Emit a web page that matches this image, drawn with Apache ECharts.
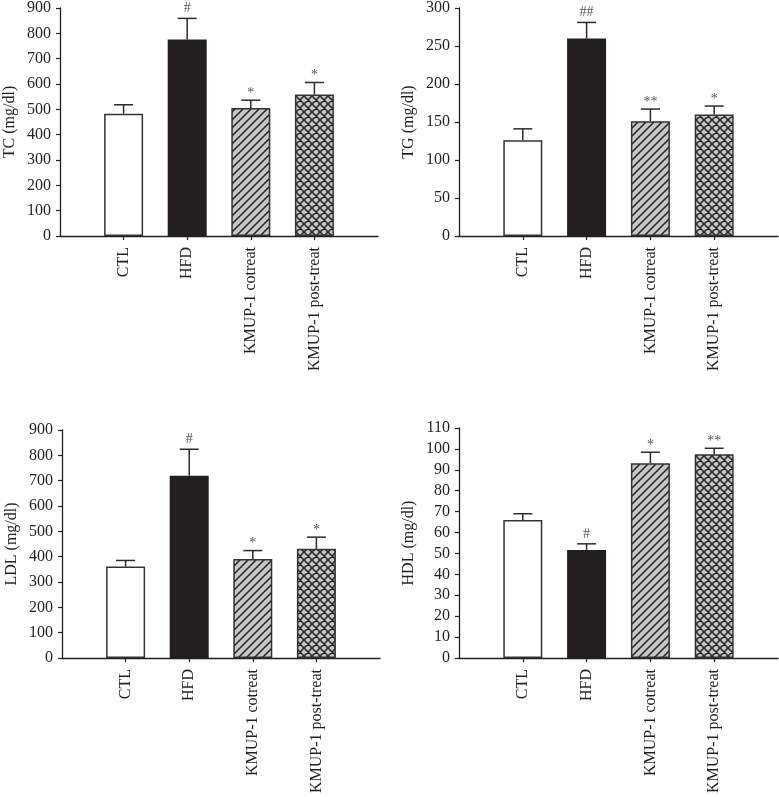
<!DOCTYPE html>
<html>
<head>
<meta charset="utf-8">
<script src="https://cdn.jsdelivr.net/npm/echarts@6/dist/echarts.min.js"></script>
<style>
  html, body { margin: 0; padding: 0; background: #fff; }
  #container { width: 779px; height: 797px; }
</style>
</head>
<body>
<div id="container"></div>
<script>
// groups and values (mean + SEM)
const categories = ['CTL', 'HFD', 'KMUP-1 cotreat', 'KMUP-1 post-treat'];

const tcMean = [483, 776, 505, 559];
const tcSem = [35, 83, 31, 47];
const tcMarks = ['', '#', '*', '*'];

const tgMean = [126, 260, 151, 160];
const tgSem = [15, 21, 16, 11];
const tgMarks = ['', '##', '**', '*'];

const ldlMean = [361, 719, 391, 431];
const ldlSem = [24, 105, 33, 46];
const ldlMarks = ['', '#', '*', '*'];

const hdlMean = [66, 51.7, 93.1, 97.5];
const hdlSem = [3, 2.9, 5.3, 2.8];
const hdlMarks = ['', '#', '*', '**'];

const yTicks = { tc: [0, 900, 100], tg: [0, 300, 50], ldl: [0, 900, 100], hdl: [0, 110, 10] };

const ink = '#231f20';
const font = 'Liberation Serif';

// hatch fills
function hatch(cross) {
    const s = 8;
    const c = document.createElement('canvas');
    c.width = s; c.height = s;
    const g = c.getContext('2d');
    g.fillStyle = '#c6c6c6';
    g.fillRect(0, 0, s, s);
    g.strokeStyle = '#222';
    g.lineWidth = 1.5;
    g.beginPath();
    g.moveTo(-1, s + 1); g.lineTo(s + 1, -1);
    g.moveTo(-1, 1); g.lineTo(1, -1);
    g.moveTo(s - 1, s + 1); g.lineTo(s + 1, s - 1);
    if (cross) {
        g.moveTo(-1, -1); g.lineTo(s + 1, s + 1);
        g.moveTo(s - 1, -1); g.lineTo(s + 1, 1);
        g.moveTo(-1, s - 1); g.lineTo(1, s + 1);
    }
    g.stroke();
    return { image: c, repeat: 'repeat' };
}

const barStyles = [
    { color: '#ffffff', borderColor: '#333', borderWidth: 1.5 },
    { color: ink, borderColor: ink, borderWidth: 1.5 },
    { color: hatch(false), borderColor: '#333', borderWidth: 1.5 },
    { color: hatch(true), borderColor: '#333', borderWidth: 1.5 }
];

const grids = [
    { left: 60, top: 7, width: 318, height: 229 },
    { left: 459, top: 7, width: 319, height: 229 },
    { left: 62, top: 430, width: 318, height: 228 },
    { left: 459, top: 428, width: 319, height: 230 }
];

const panels = [
    { name: 'TC (mg/dl)', mean: tcMean, sem: tcSem, marks: tcMarks, ticks: yTicks.tc },
    { name: 'TG (mg/dl)', mean: tgMean, sem: tgSem, marks: tgMarks, ticks: yTicks.tg },
    { name: 'LDL (mg/dl)', mean: ldlMean, sem: ldlSem, marks: ldlMarks, ticks: yTicks.ldl },
    { name: 'HDL (mg/dl)', mean: hdlMean, sem: hdlSem, marks: hdlMarks, ticks: yTicks.hdl }
];

const slots = [''].concat(categories).concat(['']);
const showSlot = function(index) { return index > 0 && index < slots.length - 1; };

var xAxes = [], yAxes = [], series = [];
panels.forEach(function(p, k) {
    xAxes.push({
        type: 'category', gridIndex: k, data: slots, boundaryGap: false,
        axisLine: { lineStyle: { color: ink, width: 1.3 } },
        axisTick: { interval: showSlot, length: 4, lineStyle: { color: ink, width: 1.2 } },
        axisLabel: { interval: showSlot, rotate: 90, margin: 11, color: ink, fontFamily: font, fontSize: 16 }
    });
    yAxes.push({
        type: 'value', gridIndex: k, min: p.ticks[0], max: p.ticks[1], interval: p.ticks[2],
        name: p.name, nameLocation: 'middle', nameRotate: 90, nameGap: 42,
        nameTextStyle: { color: ink, fontFamily: font, fontSize: 16 },
        splitLine: { show: false },
        axisLine: { show: true, lineStyle: { color: ink, width: 1.3 } },
        axisTick: { show: true, length: 4, lineStyle: { color: ink, width: 1.2 } },
        axisLabel: { margin: 9, color: ink, fontFamily: font, fontSize: 16 }
    });
    series.push({
        type: 'bar', xAxisIndex: k, yAxisIndex: k, barWidth: 39, silent: true,
        data: p.mean.map(function(v, i) { return { value: [i + 1, v], itemStyle: barStyles[i] }; })
    });
    series.push({
        type: 'custom', xAxisIndex: k, yAxisIndex: k, silent: true, z: 5,
        data: p.mean.map(function(v, i) { return [i + 1, v, p.sem[i]]; }),
        renderItem: function(params, api) {
            var x = api.value(0), m = api.value(1), e = api.value(2);
            var b = api.coord([x, m]), t = api.coord([x, m + e]);
            var mark = p.marks[params.dataIndex];
            var st = { stroke: '#2b2b2b', lineWidth: 1.5 };
            var kids = [
                { type: 'line', shape: { x1: b[0], y1: b[1], x2: t[0], y2: t[1] }, style: st },
                { type: 'line', shape: { x1: t[0] - 9.5, y1: t[1], x2: t[0] + 9.5, y2: t[1] }, style: st }
            ];
            if (mark) {
                kids.push({
                    type: 'text',
                    style: {
                        text: mark, x: t[0], y: t[1] - (mark[0] === '#' ? 3 : 0),
                        align: 'center', verticalAlign: 'bottom',
                        fill: '#555', font: '14px "' + font + '"'
                    }
                });
            }
            return { type: 'group', children: kids };
        }
    });
});

var dom = document.getElementById('container');
var myChart = echarts.init(dom, null, { renderer: 'canvas' });
myChart.setOption({
    animation: false,
    backgroundColor: '#fff',
    grid: grids,
    xAxis: xAxes,
    yAxis: yAxes,
    series: series
});
</script>
</body>
</html>
